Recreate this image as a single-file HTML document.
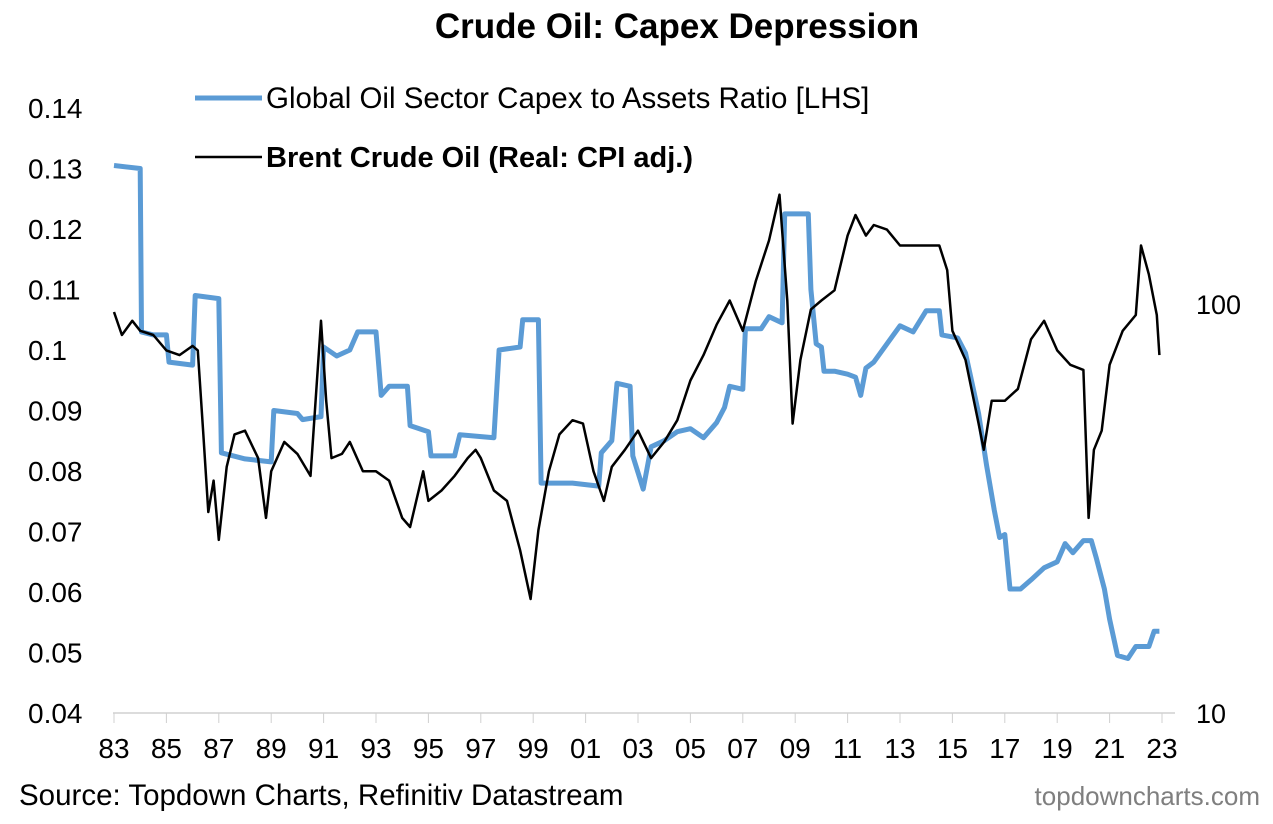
<!DOCTYPE html>
<html><head><meta charset="utf-8"><style>
body{margin:0;background:#fff;}
svg text{font-family:"Liberation Sans",Arial,sans-serif;}
</style></head><body>
<svg width="1273" height="819" viewBox="0 0 1273 819">
<text x="677" y="38" text-anchor="middle" font-size="35" font-weight="bold">Crude Oil: Capex Depression</text>
<line x1="113" y1="713" x2="1175" y2="713" stroke="#d0d0d0" stroke-width="1.5"/>
<g id="xt"></g><g id="yl"></g>
<text x="1196" y="314" font-size="27">100</text>
<text x="1196" y="723" font-size="27">10</text>
<path id="blue" fill="none" stroke="#5B9BD5" stroke-width="5" stroke-linejoin="round"/>
<path id="black" fill="none" stroke="#000" stroke-width="2.5" stroke-linejoin="round"/>
<line x1="195" y1="98" x2="262" y2="98" stroke="#5B9BD5" stroke-width="5"/>
<text x="266" y="108" font-size="29.5">Global Oil Sector Capex to Assets Ratio [LHS]</text>
<line x1="195" y1="157" x2="262" y2="157" stroke="#000" stroke-width="2.5"/>
<text x="266" y="167" font-size="29" font-weight="bold">Brent Crude Oil (Real: CPI adj.)</text>
<text x="19" y="805" font-size="29.5">Source: Topdown Charts, Refinitiv Datastream</text>
<text x="1260" y="805" font-size="26" fill="#7f7f7f" text-anchor="end">topdowncharts.com</text>
</svg>
<script>
const xTicks=[83,85,87,89,91,93,95,97,99,101,103,105,107,109,111,113,115,117,119,121,123];
const yTicks=[0.04,0.05,0.06,0.07,0.08,0.09,0.1,0.11,0.12,0.13,0.14];
const yTickLabels=["0.04","0.05","0.06","0.07","0.08","0.09","0.1","0.11","0.12","0.13","0.14"];
const capexYears=[83.0,84.0,84.05,84.5,85.0,85.1,86.0,86.1,87.0,87.1,88.0,89.0,89.1,90.0,90.2,90.9,91.0,91.5,92.0,92.3,93.0,93.2,93.5,94.2,94.3,95.0,95.1,96.0,96.2,97.5,97.7,98.5,98.6,99.2,99.3,100.5,101.5,101.6,102.0,102.2,102.7,102.8,103.2,103.5,104.0,104.5,105.0,105.5,106.0,106.3,106.5,107.0,107.1,107.7,108.0,108.5,108.6,109.0,109.5,109.6,109.8,110.0,110.1,110.5,111.0,111.3,111.5,111.7,112.0,112.5,113.0,113.5,114.0,114.5,114.6,115.2,115.5,115.8,116.0,116.3,116.6,116.8,117.0,117.2,117.6,118.0,118.5,119.0,119.3,119.6,120.0,120.3,120.5,120.8,121.0,121.3,121.7,122.0,122.5,122.7,122.9];
const capexValues=[0.1305,0.130,0.103,0.1025,0.1025,0.098,0.0975,0.109,0.1085,0.083,0.082,0.0815,0.090,0.0895,0.0885,0.089,0.1005,0.099,0.1,0.103,0.103,0.0925,0.094,0.094,0.0875,0.0865,0.0825,0.0825,0.086,0.0855,0.1,0.1005,0.105,0.105,0.078,0.078,0.0775,0.083,0.085,0.0945,0.094,0.0825,0.077,0.084,0.085,0.0865,0.087,0.0855,0.088,0.0905,0.094,0.0935,0.1035,0.1035,0.1055,0.1045,0.1225,0.1225,0.1225,0.11,0.101,0.1005,0.0965,0.0965,0.096,0.0955,0.0925,0.097,0.098,0.101,0.104,0.103,0.1065,0.1065,0.1025,0.102,0.0995,0.0935,0.0895,0.081,0.0735,0.069,0.0695,0.0605,0.0605,0.062,0.064,0.065,0.068,0.0665,0.0685,0.0685,0.0655,0.0605,0.0555,0.0495,0.049,0.051,0.051,0.0535,0.0535];
const brentYears=[83.0,83.3,83.7,84.0,84.5,85.0,85.5,86.0,86.2,86.4,86.6,86.8,87.0,87.3,87.6,88.0,88.5,88.8,89.0,89.5,90.0,90.5,90.9,91.1,91.3,91.7,92.0,92.5,93.0,93.5,94.0,94.3,94.8,95.0,95.5,96.0,96.5,96.8,97.0,97.5,98.0,98.5,98.9,99.2,99.6,100.0,100.5,100.9,101.3,101.7,102.0,102.5,103.0,103.5,104.0,104.5,105.0,105.5,106.0,106.5,107.0,107.5,108.0,108.4,108.7,108.9,109.2,109.6,110.0,110.5,111.0,111.3,111.7,112.0,112.5,113.0,113.5,114.0,114.5,114.8,115.0,115.5,116.0,116.2,116.5,117.0,117.5,118.0,118.5,119.0,119.5,120.0,120.2,120.4,120.7,121.0,121.5,122.0,122.2,122.5,122.8,122.9];
const brentValues=[95.6,84,91,86,84,77,75,79,77,49,31,37,26.5,40,48,49,42,30,39,46,43,38,91,58,42,43,46,39,39,37,30,28.5,39,33,35,38,42,44,42,35,33,25,19,28,39,48,52,51,39,33,40,44,49,42,46,52,65,75,89,102,86,114,143,185,102,51,73,97,102,108,147,165,147,156,152,139,139,139,139,121,86,73,51,44,58,58,62,82,91,77,71,69,30,44,49,71,86,94,139,118,94,75];
const ns='http://www.w3.org/2000/svg';
const X=yr=>114+(yr-83)*26.2;
const YL=v=>713-(v-0.04)*6050;
const YR=v=>304-(Math.log10(v)-2)*409;
const xt=document.getElementById('xt');
xTicks.forEach(t=>{
 const tx=document.createElementNS(ns,'text');
 tx.setAttribute('x',X(t));tx.setAttribute('y',758);tx.setAttribute('font-size','28');tx.setAttribute('text-anchor','middle');
 tx.textContent=String(t%100).padStart(2,'0');
 
 
 xt.appendChild(tx);
 const l=document.createElementNS(ns,'line');
 l.setAttribute('x1',X(t));l.setAttribute('x2',X(t));l.setAttribute('y1',713);l.setAttribute('y2',723);l.setAttribute('stroke','#d0d0d0');
 
 
 xt.appendChild(l);
});
const yl=document.getElementById('yl');
yTicks.forEach((t,i)=>{
 const tx=document.createElementNS(ns,'text');
 tx.setAttribute('x',28);tx.setAttribute('y',YL(t)+10);tx.setAttribute('font-size','28');
 tx.textContent=yTickLabels[i];
 
 
 yl.appendChild(tx);
});
document.getElementById('blue').setAttribute('d',capexYears.map((y,i)=>(i?'L':'M')+X(y).toFixed(1)+','+YL(capexValues[i]).toFixed(1)).join(''));
document.getElementById('black').setAttribute('d',brentYears.map((y,i)=>(i?'L':'M')+X(y).toFixed(1)+','+YR(brentValues[i]).toFixed(1)).join(''));
</script>
</body></html>
